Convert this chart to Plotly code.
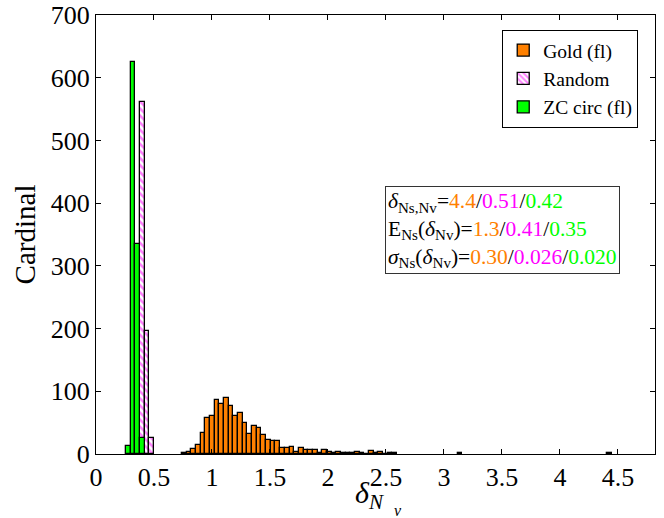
import plotly.graph_objects as go

# bin grid (shared by all three histograms)
bin_start = 0.258
bin_width = 0.0403

# Gold (fl): counts for bins 12..57, plus two isolated outliers
gold_first_bin = 12
gold_counts = [1, 3, 8, 14, 33, 57, 61, 86, 80, 89, 76, 61, 65, 49, 32, 44, 41, 30,
               23, 21, 21, 10, 10, 11, 3, 9, 6, 6, 6, 1, 6, 3, 1, 3, 1, 1, 1, 3,
               1, 0, 4, 1, 3, 0, 1, 1]
gold_extra_bins = [71, 103]
gold_extra_counts = [1, 1]

# Random: bins 3..5
random_bins = [3, 4, 5]
random_counts = [562, 196, 25]

# ZC circ (fl): bins 0..3
zc_bins = [0, 1, 2, 3]
zc_counts = [13, 625, 335, 26]

def centers(bins):
    return [bin_start + bin_width * (b + 0.5) for b in bins]

gold_bins = list(range(gold_first_bin, gold_first_bin + len(gold_counts))) + gold_extra_bins
gold_all = gold_counts + gold_extra_counts

ORANGE = "#FF8000"
MAGENTA = "#FF00FF"
GREEN = "#00FF00"
FONT = "Liberation Serif, Times New Roman, serif"

fig = go.Figure()
fig.add_trace(go.Bar(x=centers(gold_bins), y=gold_all, width=bin_width, name="Gold (fl)",
                     marker=dict(color=ORANGE, line=dict(color="black", width=1.3))))
fig.add_trace(go.Bar(x=centers(random_bins), y=random_counts, width=bin_width, name="Random",
                     marker=dict(color="white", line=dict(color="black", width=1.3),
                                 pattern=dict(shape="\\", fgcolor=MAGENTA, bgcolor="white",
                                              size=5, solidity=0.5))))
fig.add_trace(go.Bar(x=centers(zc_bins), y=zc_counts, width=bin_width, name="ZC circ (fl)",
                     marker=dict(color=GREEN, line=dict(color="black", width=1.3))))

def col(t, c):
    return f"<span style='color:{c}'>{t}</span>"

ann = ("<i>δ</i><sub>Ns,Nv</sub>=" + col("4.4", ORANGE) + "/" + col("0.51", MAGENTA) + "/" + col("0.42", GREEN)
       + "<br>E<sub>Ns</sub>(<i>δ</i><sub>Nv</sub>)=" + col("1.3", ORANGE) + "/" + col("0.41", MAGENTA) + "/" + col("0.35", GREEN)
       + "<br><i>σ</i><sub>Ns</sub>(<i>δ</i><sub>Nv</sub>)=" + col("0.30", ORANGE) + "/" + col("0.026", MAGENTA) + "/" + col("0.020", GREEN))

fig.add_annotation(x=2.49, y=428, xref="x", yref="y", xanchor="left", yanchor="top",
                   text=ann, showarrow=False, align="left",
                   font=dict(family=FONT, size=21.5, color="black"),
                   bordercolor="#333333", borderwidth=1, borderpad=2, bgcolor="white")

# x-axis label: delta with subscript N, itself with subscript v
fig.add_annotation(x=0.49, y=-0.045, xref="paper", yref="paper", xanchor="center", yanchor="top",
                   text="<i>δ</i><sub><i>N</i></sub>", showarrow=False,
                   font=dict(family=FONT, size=30, color="black"))
fig.add_annotation(x=0.529, y=-0.105, xref="paper", yref="paper", xanchor="left", yanchor="top",
                   text="<i>v</i>", showarrow=False,
                   font=dict(family=FONT, size=16, color="black"))

fig.update_layout(
    width=664, height=518,
    margin=dict(l=96, r=9, t=15, b=64),
    paper_bgcolor="white", plot_bgcolor="white",
    barmode="overlay", bargap=0,
    font=dict(family=FONT, color="black"),
    legend=dict(x=0.97, y=0.966, xanchor="right", yanchor="top",
                bordercolor="black", borderwidth=1, bgcolor="white",
                font=dict(family=FONT, size=19.5), tracegroupgap=0,
                itemwidth=30),
    xaxis=dict(range=[0, 4.82], dtick=0.5, tick0=0, showgrid=False, zeroline=False,
               showline=True, linecolor="black", linewidth=1, mirror="ticks",
               ticks="inside", ticklen=5, tickcolor="black", automargin=False,
               tickfont=dict(family=FONT, size=26)),
    yaxis=dict(range=[0, 700], dtick=100, showgrid=False, zeroline=False,
               showline=True, linecolor="black", linewidth=1, mirror="ticks",
               ticks="inside", ticklen=5, tickcolor="black", automargin=False,
               tickfont=dict(family=FONT, size=26),
               title=dict(text="Cardinal", font=dict(family=FONT, size=29), standoff=6)),
)

# remove the default page margin so the figure starts at the window's top-left corner
fig.write_html("out.html", config={"displayModeBar": False},
               post_script="document.body.style.margin='0px';")
